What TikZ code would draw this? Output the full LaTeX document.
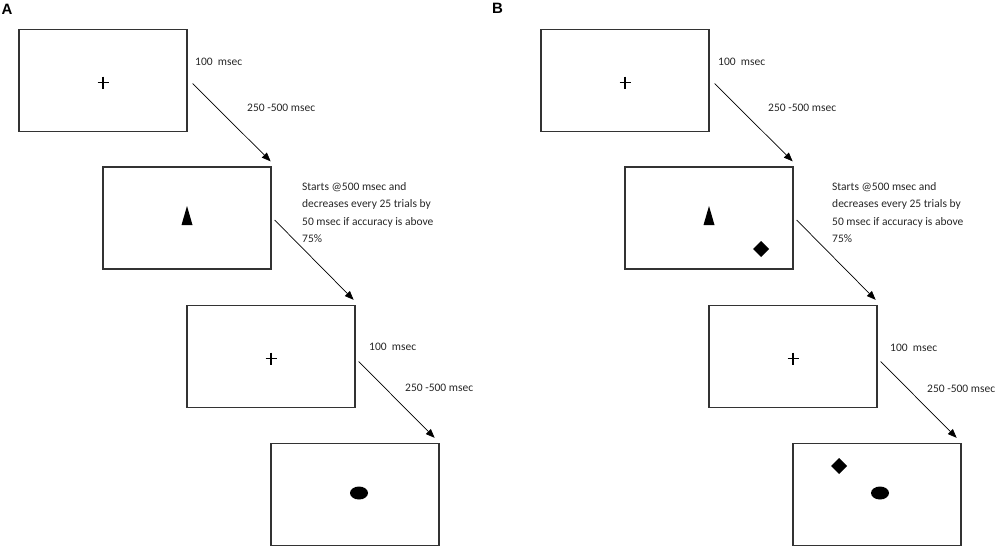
\documentclass[tikz,border=0pt]{standalone}
\usepackage{fontspec}
\setmainfont{Carlito}
\newfontfamily\labfont{Liberation Sans}
\usetikzlibrary{arrows.meta,calc}
\begin{document}
\begin{tikzpicture}[x=1pt,y=-1pt,
  screen/.style={draw=black!80,line width=1.3pt,minimum width=168pt,minimum height=102pt,inner sep=0pt},
  arr/.style={draw=black,line width=0.7pt,-{Triangle[length=9pt,width=7pt]}},
  lbl/.style={anchor=west,inner sep=0pt,font=\fontsize{11.5}{17.5}\selectfont,text=black!85},
  panel/.style={inner sep=0pt,font=\labfont\bfseries\fontsize{15}{15}\selectfont},
  crosshair/.pic={\draw[line width=1.1pt,black] (-5.5,0) -- (5.5,0) (0,-6) -- (0,6);},
  cue/.pic={\fill[black] (0,-12) -- (5.5,7) -- (-5.5,7) -- cycle;},
  gem/.pic={\fill[black] (0,-8) -- (8,0) -- (0,8) -- (-8,0) -- cycle;},
  dot/.pic={\fill[black] (0,0) ellipse [x radius=9, y radius=6.5];}
]
\useasboundingbox (0,0) rectangle (1000,547);

% Panel labels
\node[panel] (pA) at (7,9) {A};
\node[panel] (pB) at (497.5,8.5) {B};

% ---------- Panel A ----------
\node[screen] (a1) at (103,80.5) {};
\node[screen] (a2) at (187,218) {};
\node[screen] (a3) at (271,356.5) {};
\node[screen] (a4) at (355,494.5) {};

\pic at ($(a1.center)+(0,2)$) {crosshair};
\pic at (a2.center) {cue};
\pic at ($(a3.center)+(0,2)$) {crosshair};
\pic at ($(a4.center)+(4,-1.5)$) {dot};

\draw[arr] ($(a1.east)+(5,3)$) -- ($(a2.north east)+(-1,-5)$);
\draw[arr] ($(a2.east)+(3,2)$) -- ($(a3.north east)+(-2,-5)$);
\draw[arr] ($(a3.east)+(3,5)$) -- ($(a4.north east)+(-5,-5)$);

\node[lbl] (ta1) at (195,62) {100\ \ msec};
\node[lbl] (ta2) at (247,108) {250 -500 msec};
\node[lbl,anchor=north west,align=left] (ta3) at (302,182) {Starts @500 msec and\\decreases every 25 trials by\\50 msec if accuracy is above\\75\%};
\node[lbl] (ta4) at (369,347) {100\ \ msec};
\node[lbl] (ta5) at (405,388) {250 -500 msec};

% ---------- Panel B ----------
\node[screen] (b1) at (625,80.5) {};
\node[screen] (b2) at (709,218) {};
\node[screen] (b3) at (793,356.5) {};
\node[screen] (b4) at (877,494.5) {};

\pic at ($(b1.center)+(0,2)$) {crosshair};
\pic at (b2.center) {cue};
\pic at ($(b2.center)+(52,31)$) {gem};
\pic at ($(b3.center)+(0,2)$) {crosshair};
\pic at ($(b4.center)+(-38,-28.5)$) {gem};
\pic at ($(b4.center)+(3,-1.5)$) {dot};

\draw[arr] ($(b1.east)+(5,3)$) -- ($(b2.north east)+(-1,-5)$);
\draw[arr] ($(b2.east)+(3,2)$) -- ($(b3.north east)+(-2,-5)$);
\draw[arr] ($(b3.east)+(3,5)$) -- ($(b4.north east)+(-5,-5)$);

\node[lbl] (tb1) at (718,62) {100\ \ msec};
\node[lbl] (tb2) at (768,108) {250 -500 msec};
\node[lbl,anchor=north west,align=left] (tb3) at (832,182) {Starts @500 msec and\\decreases every 25 trials by\\50 msec if accuracy is above\\75\%};
\node[lbl] (tb4) at (890,348) {100\ \ msec};
\node[lbl] (tb5) at (927,389) {250 -500 msec};
\end{tikzpicture}
\end{document}
